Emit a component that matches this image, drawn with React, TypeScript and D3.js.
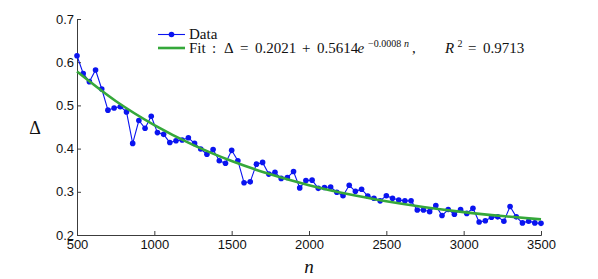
import { useEffect, useRef } from 'react';
import * as d3 from 'd3';

// sample sizes n (step 40)
const N_VALUES = [
  500, 540, 580, 620, 660, 700, 740, 780, 820, 860, 900, 940, 980, 1020, 1060, 1100,
  1140, 1180, 1220, 1260, 1300, 1340, 1380, 1420, 1460, 1500, 1540, 1580, 1620, 1660,
  1700, 1740, 1780, 1820, 1860, 1900, 1940, 1980, 2020, 2060, 2100, 2140, 2180, 2220,
  2260, 2300, 2340, 2380, 2420, 2460, 2500, 2540, 2580, 2620, 2660, 2700, 2740, 2780,
  2820, 2860, 2900, 2940, 2980, 3020, 3060, 3100, 3140, 3180, 3220, 3260, 3300, 3340,
  3380, 3420, 3460, 3500,
];

// measured Delta
const DELTA_VALUES = [
  0.615, 0.574, 0.555, 0.582, 0.538, 0.489, 0.494, 0.497, 0.485, 0.412, 0.465, 0.447,
  0.475, 0.437, 0.433, 0.414, 0.418, 0.420, 0.425, 0.412, 0.399, 0.387, 0.398, 0.372,
  0.366, 0.396, 0.372, 0.321, 0.323, 0.364, 0.368, 0.341, 0.345, 0.331, 0.333, 0.347,
  0.309, 0.326, 0.327, 0.308, 0.310, 0.311, 0.299, 0.291, 0.315, 0.301, 0.306, 0.290,
  0.285, 0.279, 0.291, 0.285, 0.281, 0.279, 0.279, 0.258, 0.258, 0.254, 0.268, 0.245,
  0.259, 0.248, 0.259, 0.250, 0.262, 0.230, 0.233, 0.241, 0.242, 0.232, 0.266, 0.242,
  0.228, 0.232, 0.228, 0.227,
];

// fitted curve, read at every 250
const FIT_N = [500, 750, 1000, 1250, 1500, 1750, 2000, 2250, 2500, 2750, 3000, 3250, 3500];
const FIT_VALUES = [0.5784, 0.5102, 0.4544, 0.4086, 0.3712, 0.3405, 0.3154, 0.2949, 0.2781, 0.2643, 0.2530, 0.2438, 0.2362];

const X_TICKS = [500, 1000, 1500, 2000, 2500, 3000, 3500];
const Y_TICKS = [0.2, 0.3, 0.4, 0.5, 0.6, 0.7];

// legend formula pieces: [text, x, italic, superscript]
const FIT_PIECES: [string, number, boolean, boolean][] = [
  ['Fit', 189, false, false],
  [':', 212, false, false],
  ['Δ', 224, false, false],
  ['=', 240, false, false],
  ['0.2021', 255, false, false],
  ['+', 302, false, false],
  ['0.5614', 317, false, false],
  ['e', 357.5, true, false],
  ['−0.0008', 368, false, true],
  ['n', 404, true, true],
  [',', 412, false, false],
  ['R', 445, true, false],
  ['2', 457.5, false, true],
  ['=', 468, false, false],
  ['0.9713', 483, false, false],
];

const W = 598, H = 279;
const margin = { top: 19, right: 57, bottom: 44, left: 77 };
const innerW = W - margin.left - margin.right;
const innerH = H - margin.top - margin.bottom;

const BLUE = '#0a14f0';
const GREEN = '#35a83a';
const AXIS = '#3c3c3c';
const SERIF = '"Liberation Serif", "DejaVu Serif", serif';
const SANS = '"Liberation Sans", Arial, sans-serif';

export default function App() {
  const svgRef = useRef<SVGSVGElement | null>(null);

  useEffect(() => {
    document.body.style.margin = '0';
    if (!svgRef.current) return;
    const svg = d3.select(svgRef.current);
    svg.selectAll('*').remove();

    const g = svg.append('g').attr('transform', `translate(${margin.left},${margin.top})`);

    const x = d3.scaleLinear().domain([500, 3500]).range([0, innerW]);
    const y = d3.scaleLinear().domain([0.2, 0.7]).range([innerH, 0]);

    // Axes (MATLAB style: inward ticks, no box)
    g.append('g').attr('transform', `translate(0,${innerH})`)
      .call(d3.axisBottom(x).tickValues(X_TICKS).tickSize(-4).tickPadding(5).tickFormat(d3.format('d')))
      .call(ax => ax.select('.domain').attr('stroke', AXIS))
      .call(ax => ax.selectAll('line').attr('stroke', AXIS))
      .call(ax => ax.selectAll('text').attr('fill', '#111').style('font-size', '13px').style('font-family', SANS));

    g.append('g')
      .call(d3.axisLeft(y).tickValues(Y_TICKS).tickSize(-4).tickPadding(3).tickFormat(d3.format('.1f')))
      .call(ax => ax.select('.domain').attr('stroke', AXIS))
      .call(ax => ax.selectAll('line').attr('stroke', AXIS))
      .call(ax => ax.selectAll('text').attr('fill', '#111').style('font-size', '13px').style('font-family', SANS));

    // Axis labels
    svg.append('text').attr('x', 35).attr('y', 134)
      .attr('text-anchor', 'middle').style('font-family', SERIF).style('font-size', '18px')
      .attr('fill', '#111').text('Δ');
    svg.append('text').attr('x', 309).attr('y', 273)
      .attr('text-anchor', 'middle').style('font-family', SERIF).style('font-size', '19px')
      .style('font-style', 'italic').attr('fill', '#111').text('n');

    const pts = N_VALUES.map((n, i) => ({ n, v: DELTA_VALUES[i] }));

    // Data line + markers
    const line = d3.line<{ n: number; v: number }>().x(d => x(d.n)).y(d => y(d.v));
    g.append('path').datum(pts).attr('d', line)
      .attr('fill', 'none').attr('stroke', BLUE).attr('stroke-width', 1.1);
    g.selectAll('circle.pt').data(pts).enter().append('circle')
      .attr('cx', d => x(d.n)).attr('cy', d => y(d.v)).attr('r', 2.8).attr('fill', BLUE);

    // Fit curve
    const fit = FIT_N.map((n, i) => ({ n, v: FIT_VALUES[i] }));
    const fitLine = d3.line<{ n: number; v: number }>().x(d => x(d.n)).y(d => y(d.v)).curve(d3.curveMonotoneX);
    g.append('path').datum(fit).attr('d', fitLine)
      .attr('fill', 'none').attr('stroke', GREEN).attr('stroke-width', 2.6);

    // Legend
    const lg = svg.append('g');
    lg.append('line').attr('x1', 158).attr('x2', 185).attr('y1', 34.5).attr('y2', 34.5)
      .attr('stroke', BLUE).attr('stroke-width', 1.1);
    lg.append('circle').attr('cx', 171.5).attr('cy', 34.5).attr('r', 2.8).attr('fill', BLUE);
    lg.append('text').attr('x', 189).attr('y', 38.5).style('font-family', SERIF).style('font-size', '15px')
      .attr('fill', '#111').text('Data');

    lg.append('line').attr('x1', 158).attr('x2', 185).attr('y1', 48).attr('y2', 48)
      .attr('stroke', GREEN).attr('stroke-width', 2.6);
    const t = lg.append('text').attr('y', 53).style('font-family', SERIF)
      .style('font-size', '15px').attr('fill', '#111');
    FIT_PIECES.forEach(([s, px, it, sup]) => {
      t.append('tspan').attr('x', px).attr('y', sup ? 47 : 53)
        .style('font-style', it ? 'italic' : 'normal')
        .style('font-size', sup ? '10px' : '15px')
        .text(s);
    });
  }, []);

  return (
    <svg ref={svgRef} width={W} height={H} viewBox={`0 0 ${W} ${H}`}
      style={{ display: 'block', background: '#fff' }} />
  );
}
